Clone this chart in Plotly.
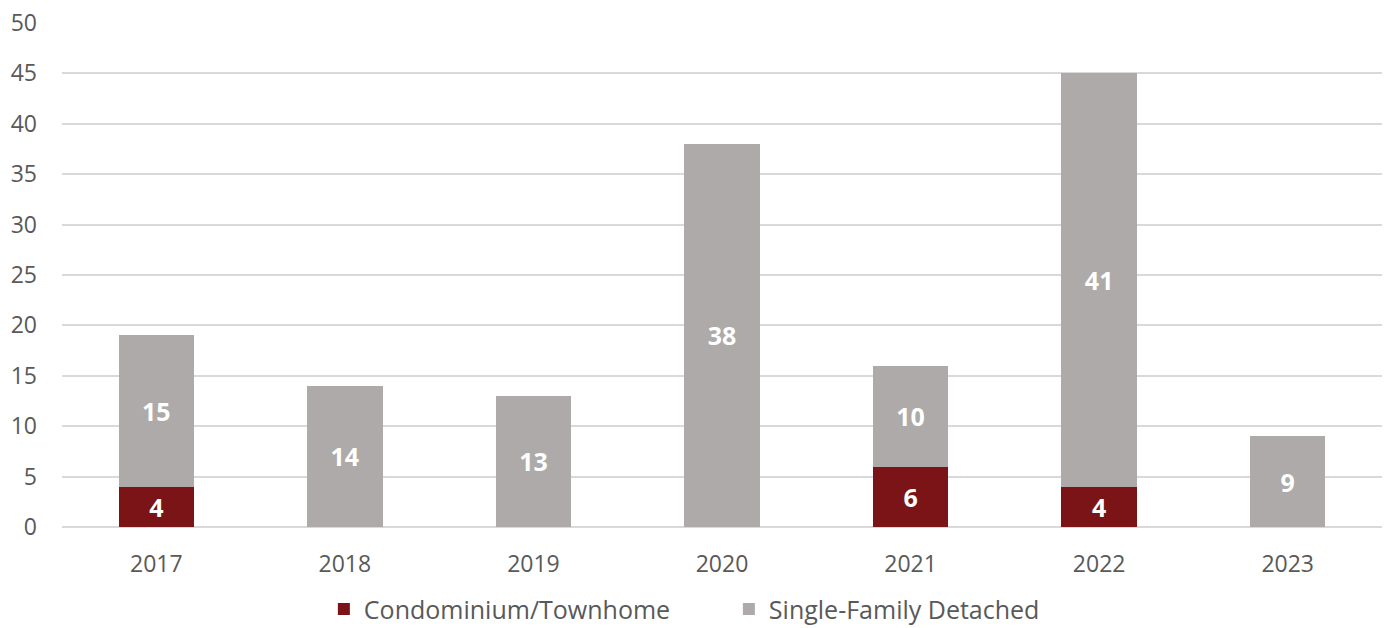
import plotly.graph_objects as go

years = ["2017", "2018", "2019", "2020", "2021", "2022", "2023"]
condo = [4, None, None, None, 6, 4, None]
single_family = [15, 14, 13, 38, 10, 41, 9]

MAROON = "#7B1416"
GREY = "#ADAAA9"
TEXT = "#595959"
FONT = "Open Sans"
LABEL_FONT = dict(color="white", size=25, family=FONT, weight="bold")

fig = go.Figure()
fig.add_trace(go.Bar(
    x=years, y=condo, name="Condominium/Townhome",
    marker=dict(color=MAROON, line=dict(width=0)),
    text=[str(v) if v else "" for v in condo],
    textposition="inside", insidetextanchor="middle",
    textfont=LABEL_FONT, constraintext="none",
))
fig.add_trace(go.Bar(
    x=years, y=single_family, name="Single-Family Detached",
    marker=dict(color=GREY, line=dict(width=0)),
    text=[str(v) for v in single_family],
    textposition="inside", insidetextanchor="middle",
    textfont=LABEL_FONT, constraintext="none",
))

fig.update_layout(
    barmode="stack",
    bargap=0.6,
    width=1390, height=628,
    margin=dict(l=62, r=8, t=23, b=101, autoexpand=False),
    paper_bgcolor="white", plot_bgcolor="white",
    font=dict(family=FONT, color=TEXT, size=23),
    showlegend=True,
    legend=dict(
        orientation="h", x=0.233, xanchor="left", xref="container",
        y=0.03, yanchor="middle", yref="container",
        font=dict(size=25, color=TEXT), traceorder="normal",
        itemwidth=30, entrywidth=360, entrywidthmode="pixels",
    ),
    xaxis=dict(
        type="category", showgrid=False, zeroline=False, showline=False,
        ticks="", ticklabelstandoff=21, tickfont=dict(size=23, color=TEXT),
    ),
    yaxis=dict(
        range=[0, 50], dtick=5, showgrid=True, gridcolor="#D9D9D9", gridwidth=2,
        zeroline=True, zerolinecolor="#D9D9D9", zerolinewidth=2,
        showline=False, ticks="", ticklabelstandoff=24,
        tickfont=dict(size=23, color=TEXT),
    ),
)

fig.write_html("out.html")
